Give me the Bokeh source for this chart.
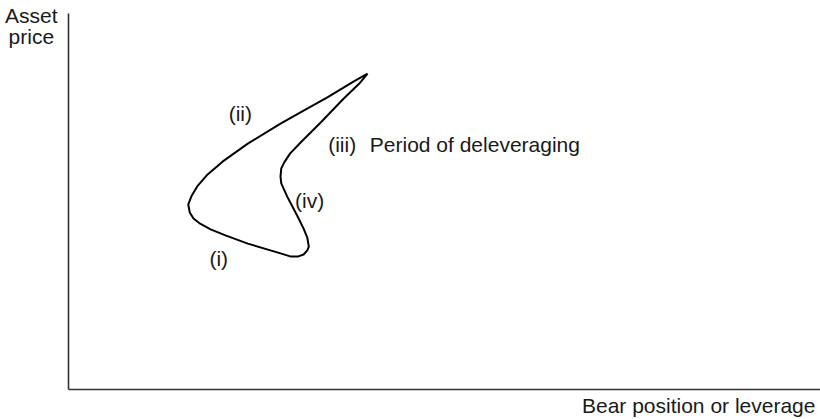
from bokeh.plotting import figure
from bokeh.models import Range1d, Label
from bokeh.embed import file_html
from bokeh.resources import INLINE

# Data (axis units 0-100, no scale shown)
leverage = [40.2, 38.3, 34.8, 31.6, 28.5, 24.1, 20.7, 18.7, 17.3, 16.5, 16.1, 16.3,
            16.8, 17.7, 19.1, 21.1, 24.1, 28.5, 29.8, 30.9, 31.6, 32.1, 32.3, 32.1,
            31.6, 30.8, 29.4, 28.6, 28.5, 28.6, 29.0, 29.8, 31.2, 33.9, 37.0, 39.2,
            40.2]
price = [84.0, 81.9, 77.7, 74.2, 70.7, 65.4, 60.6, 57.2, 54.0, 51.3, 49.2, 47.1,
         45.5, 44.1, 42.6, 41.0, 38.8, 36.2, 35.4, 35.4, 35.9, 37.0, 38.0, 40.4,
         42.8, 46.0, 51.3, 54.8, 56.6, 58.8, 60.4, 62.8, 65.7, 71.0, 77.4, 81.6,
         84.0]

phase_labels = ["(i)", "(ii)", "(iii)", "(iv)"]
phase_x = [20.2, 23.1, 34.9, 32.4]
phase_y = [34.8, 73.4, 65.2, 50.3]
phase_align = ["center", "center", "left", "center"]

note_text = "Period of deleveraging"
y_title = ["Asset", "price"]
x_title = "Bear position or leverage"

# axis extents (origin at 0,0)
x_axis_end = 101.08
y_axis_end = 100.0

FONT = "Liberation Sans"
FS = "21px"
INK = "#1a1a1a"

p = figure(width=820, height=419, output_backend="svg", toolbar_location=None,
           x_range=Range1d(-9.14, 101.08), y_range=Range1d(-7.98, 103.46),
           min_border=0, x_axis_location=None, y_axis_location=None)
p.outline_line_color = None
p.grid.visible = False
p.background_fill_color = "white"
p.border_fill_color = "white"

# L-shaped axes
p.segment(x0=[0, 0], y0=[0, 0], x1=[0, x_axis_end], y1=[y_axis_end, 0],
          line_width=1.6, line_color="#333333")

p.line(leverage, price, line_width=2.0, line_color="black", line_join="round")


def label(x, y, text, align):
    p.add_layout(Label(x=x, y=y, text=text, text_align=align,
                       text_baseline="middle", text_font=FONT,
                       text_font_size=FS, text_color=INK))


for t, x, y, a in zip(phase_labels, phase_x, phase_y, phase_align):
    label(x, y, t, a)

label(40.5, 65.2, note_text, "left")
label(-5.0, 99.4, y_title[0], "center")
label(-5.0, 94.0, y_title[1], "center")
label(100.4, -4.3, x_title, "right")

open("out.html", "w").write(file_html(p, INLINE))
